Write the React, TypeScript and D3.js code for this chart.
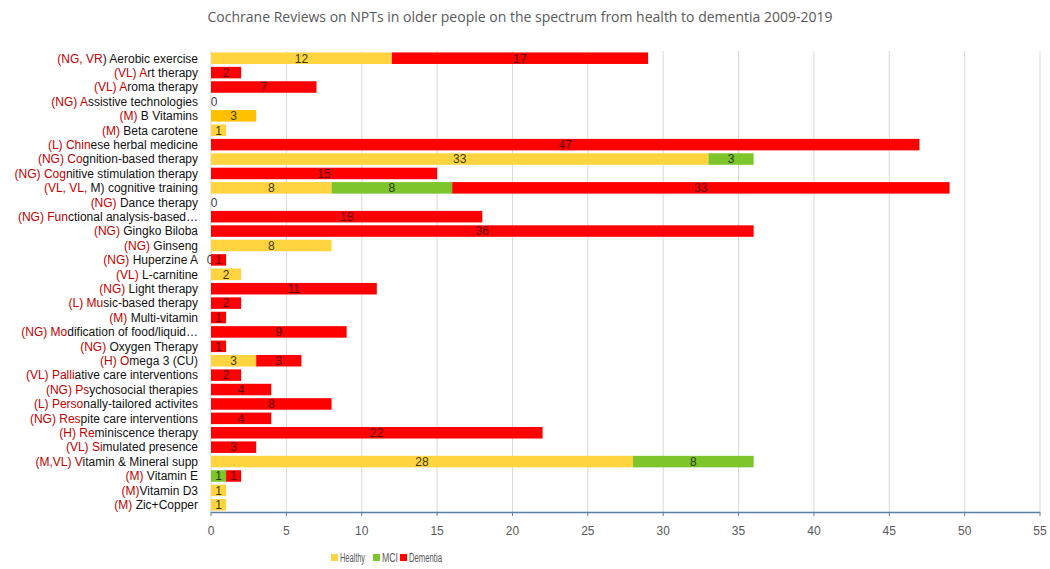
import React from "react";
import * as d3 from "d3";

const labelPrefix = [
  "(NG, VR", "(VL) A", "(VL) A", "(NG) A", "(M) ", "(M) ", "(L) Chin", "(NG) Co", "(NG) Cog",
  "(VL, VL, ", "(NG) ", "(NG) Fun", "(NG) ", "(NG) ", "(NG) ", "(VL) ", "(NG) ", "(L) Mu",
  "(M) ", "(NG) Mo", "(NG) ", "(H) O", "(VL) Palli", "(NG) Ps", "(L) Perso", "(NG) Res",
  "(H) Re", "(VL) Si", "(M,VL) V", "(M) ", "(M)", "(M) ",
];
const labelRest = [
  ") Aerobic exercise", "rt therapy", "roma therapy", "ssistive technologies", "B Vitamins",
  "Beta carotene", "ese herbal medicine", "gnition-based therapy", "nitive stimulation therapy",
  "M) cognitive training", "Dance therapy", "ctional analysis-based…", "Gingko Biloba", "Ginseng",
  "Huperzine A", "L-carnitine", "Light therapy", "sic-based therapy", "Multi-vitamin",
  "dification of food/liquid…", "Oxygen Therapy", "mega 3 (CU)", "ative care interventions",
  "ychosocial therapies", "nally-tailored activites", "pite care interventions",
  "miniscence therapy", "mulated presence", "itamin & Mineral supp", "Vitamin E", "Vitamin D3",
  "Zic+Copper",
];
// null = no segment; 0 = zero segment with visible label
const healthy: (number | null)[] = [
  12, null, null, 0, 3, 1, null, 33, null, 8, 0, null, null, 8, 0, 2, null, null, null, null,
  null, 3, null, null, null, null, null, null, 28, null, 1, 1,
];
const mci: (number | null)[] = [
  null, null, null, null, null, null, null, 3, null, 8, null, null, null, null, null, null, null,
  null, null, null, null, null, null, null, null, null, null, null, 8, 1, null, null,
];
const dementia: (number | null)[] = [
  17, 2, 7, null, null, null, 47, null, 15, 33, null, 18, 36, null, 1, null, 11, 2, 1, 9, 1, 3,
  2, 4, 8, 4, 22, 3, null, 1, null, null,
];
const xTicks = [0, 5, 10, 15, 20, 25, 30, 35, 40, 45, 50, 55];
const seriesNames = ["Healthy", "MCI", "Dementia"];
const seriesColors = ["#FFD43F", "#7CC52A", "#FF0000"];
const labelColors = ["#3a3a1a", "#2a3a10", "#5a0000"];
const title = "Cochrane Reviews on NPTs in older people on the spectrum from health to dementia 2009-2019";

const W = 1050;
const H = 569;
const FONT = "'Liberation Sans', Arial, sans-serif";

export default function App() {
  const x = d3.scaleLinear().domain([0, 55]).range([211, 1040]);
  const rows = d3.range(labelPrefix.length);
  const y = d3.scaleBand<number>().domain(rows).range([51, 512]).paddingInner(0.2).paddingOuter(0.1);
  const bw = y.bandwidth();
  const series = [healthy, mci, dementia];
  const legendX = [331, 373, 400];
  const legendW = [25, 16, 33];

  return (
    <svg width={W} height={H} style={{ position: "absolute", left: 0, top: 0, background: "#fff" }} fontFamily={FONT}>
      <text x={520} y={22} textAnchor="middle" fontSize={14} fill="#595959" fontFamily="'Open Sans', sans-serif">{title}</text>
      {xTicks.map((t) => (
        <line key={"g" + t} x1={x(t)} x2={x(t)} y1={51} y2={512} stroke="#D9D9D9" strokeWidth={1} />
      ))}
      {rows.map((i) => {
        let acc = 0;
        const cy = (y(i) as number) + bw / 2;
        const out: React.ReactNode[] = [];
        series.forEach((s, k) => {
          const v = s[i];
          if (v === null) return;
          const x0 = x(acc);
          const x1 = x(acc + v);
          const fill = k === 0 && i === 4 ? "#FFC000" : seriesColors[k];
          if (v > 0) {
            out.push(<rect key={"r" + k} x={x0} y={y(i)} width={x1 - x0} height={bw} fill={fill} />);
          }
          out.push(
            <text key={"t" + k} x={v > 0 ? (x0 + x1) / 2 : x0 + (i === 14 ? -1 : 3)} y={cy} dy="0.36em" textAnchor="middle"
              fontSize={12} fill={v === 0 ? "#404040" : labelColors[k]}>{v}</text>
          );
          acc += v;
        });
        return (
          <g key={i}>
            {out}
            <text x={198} y={cy} dy="0.36em" textAnchor="end" fontSize={12}>
              <tspan fill="#C00000">{labelPrefix[i]}</tspan>
              <tspan fill="#111">{labelRest[i]}</tspan>
            </text>
          </g>
        );
      })}
      <line x1={x(0)} x2={x(55)} y1={512.5} y2={512.5} stroke="#5B7FA6" strokeWidth={1.3} />
      {xTicks.map((t) => (
        <g key={"t" + t}>
          <line x1={x(t)} x2={x(t)} y1={512} y2={516} stroke="#5B7FA6" strokeWidth={1} />
          <text x={x(t)} y={535} textAnchor="middle" fontSize={12} fill="#595959">{t}</text>
        </g>
      ))}
      {seriesNames.map((n, k) => {
        const lx = legendX[k];
        return (
          <g key={n}>
            <rect x={lx} y={554} width={7} height={7} fill={seriesColors[k]} />
            <text x={lx + 9} y={558} dy="0.36em" fontSize={12} fill="#595959"
              textLength={legendW[k]} lengthAdjust="spacingAndGlyphs">{n}</text>
          </g>
        );
      })}
    </svg>
  );
}
